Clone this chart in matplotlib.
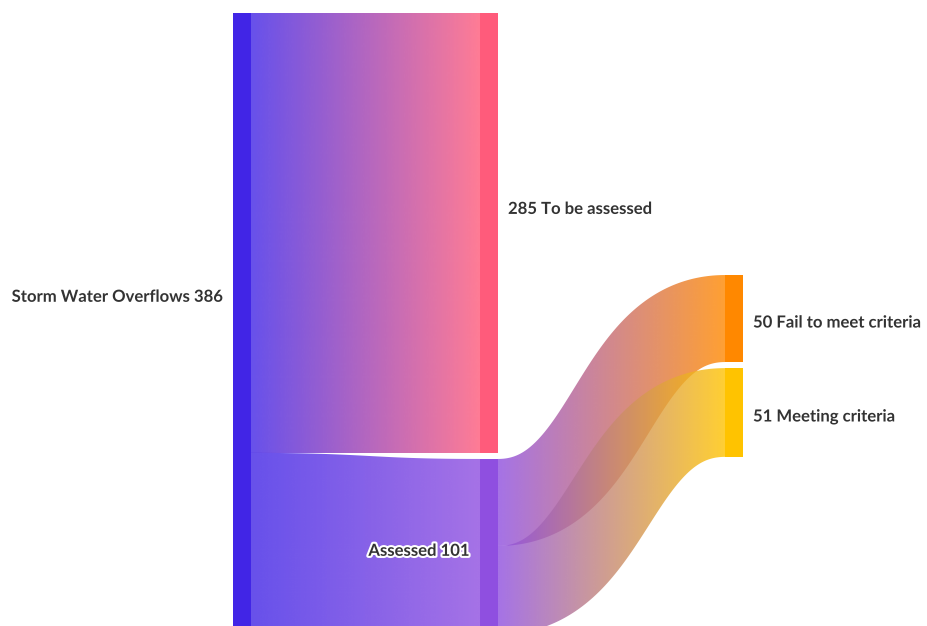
import numpy as np
import matplotlib
matplotlib.use("Agg")
import matplotlib.pyplot as plt
from matplotlib.patches import Polygon, Rectangle
from matplotlib.colors import to_rgb
import matplotlib.patheffects as pe

# data
node_names = ['Storm Water Overflows', 'To be assessed', 'Assessed',
              'Fail to meet criteria', 'Meeting criteria']
node_colors = ['#4125e6', '#ff5b7b', '#8f4fe0', '#ff8800', '#ffc300']
link_source = [0, 0, 2, 2]
link_target = [1, 2, 3, 4]
link_value = [285, 101, 50, 51]

# layout
node_column = [0, 1, 1, 2, 2]
label_right = [False, True, False, True, True]
column_x = [233, 480, 725]
column_top = [0, 0, 182.8]
node_w = 18
gap = 3.5
link_alpha = 0.8

n = len(node_names)
in_sum = np.zeros(n)
out_sum = np.zeros(n)
for s, t, v in zip(link_source, link_target, link_value):
    out_sum[s] += v
    in_sum[t] += v
node_val = np.maximum(in_sum, out_sum)

node_top = np.zeros(n)
for c in range(len(column_x)):
    y = column_top[c]
    for i in range(n):
        if node_column[i] == c:
            node_top[i] = y
            y += node_val[i] + gap

fig = plt.figure(figsize=(9.28, 6.26), dpi=100)
ax = fig.add_axes([0, 0, 1, 1 - 13 / 626])
ax.axis('off')
ax.set_xlim(0, 928)
ax.set_ylim(384.5, 32.2)
fig.canvas.draw()
to_px = ax.transData
to_data = ax.transData.inverted()
px_per_unit = abs(to_px.transform((0, 1))[1] - to_px.transform((0, 0))[1])


def gradient(c0, c1, npts=256):
    a = np.array(to_rgb(c0))
    b = np.array(to_rgb(c1))
    t = np.linspace(0, 1, npts)[:, None]
    rgb = a + (b - a) * t
    rgba = np.concatenate([rgb, np.full((npts, 1), link_alpha)], axis=1)
    return rgba[None, :, :]


def link_band(x0, y0, x1, y1, width_px):
    # thick stroke along a horizontal bezier centre line, built in pixel space
    t = np.linspace(0, 1, 300)[:, None]
    xm = (x0 + x1) / 2
    p0, p1, p2, p3 = [np.array(p, float) for p in [(x0, y0), (xm, y0), (xm, y1), (x1, y1)]]
    pts = ((1 - t) ** 3) * p0 + 3 * ((1 - t) ** 2) * t * p1 + 3 * (1 - t) * t ** 2 * p2 + t ** 3 * p3
    d = 3 * ((1 - t) ** 2) * (p1 - p0) + 6 * (1 - t) * t * (p2 - p1) + 3 * t ** 2 * (p3 - p2)
    pts_px = to_px.transform(pts)
    d_px = to_px.transform(pts + d * 1e-3) - pts_px
    nrm = np.column_stack([-d_px[:, 1], d_px[:, 0]])
    nrm /= np.linalg.norm(nrm, axis=1)[:, None]
    upper = pts_px + nrm * width_px / 2
    lower = pts_px - nrm * width_px / 2
    poly = np.vstack([upper, lower[::-1]])
    return to_data.transform(poly)


out_off = node_top.copy()
in_off = node_top.copy()
for s, t, v in zip(link_source, link_target, link_value):
    x0 = column_x[node_column[s]] + node_w
    x1 = column_x[node_column[t]]
    y0 = out_off[s] + v / 2
    y1 = in_off[t] + v / 2
    out_off[s] += v
    in_off[t] += v
    verts = link_band(x0, y0, x1, y1, v * px_per_unit)
    patch = Polygon(verts, closed=True, facecolor='none', edgecolor='none')
    ax.add_patch(patch)
    im = ax.imshow(gradient(node_colors[s], node_colors[t]),
                   extent=(x0, x1, verts[:, 1].max(), verts[:, 1].min()),
                   aspect='auto', interpolation='bilinear', zorder=1)
    im.set_clip_path(patch)

halo = [pe.withStroke(linewidth=3, foreground='white')]
for i in range(n):
    x = column_x[node_column[i]]
    ax.add_patch(Rectangle((x, node_top[i]), node_w, node_val[i],
                           facecolor=node_colors[i], edgecolor='none', zorder=2))
    yc = node_top[i] + node_val[i] / 2 + 4 / px_per_unit
    val = int(node_val[i])
    if label_right[i]:
        ax.text(x + node_w + 10, yc, f'{val} {node_names[i]}', ha='left', va='center',
                fontsize=12, fontweight='bold', color='#333333', family='Lato',
                path_effects=halo, zorder=3)
    else:
        ax.text(x - 11, yc, f'{node_names[i]} {val}', ha='right', va='center',
                fontsize=12, fontweight='bold', color='#333333', family='Lato',
                path_effects=halo, zorder=3)

ax.set_xlim(0, 928)
ax.set_ylim(384.5, 32.2)

fig.savefig('out.png', dpi=100, facecolor='white')
